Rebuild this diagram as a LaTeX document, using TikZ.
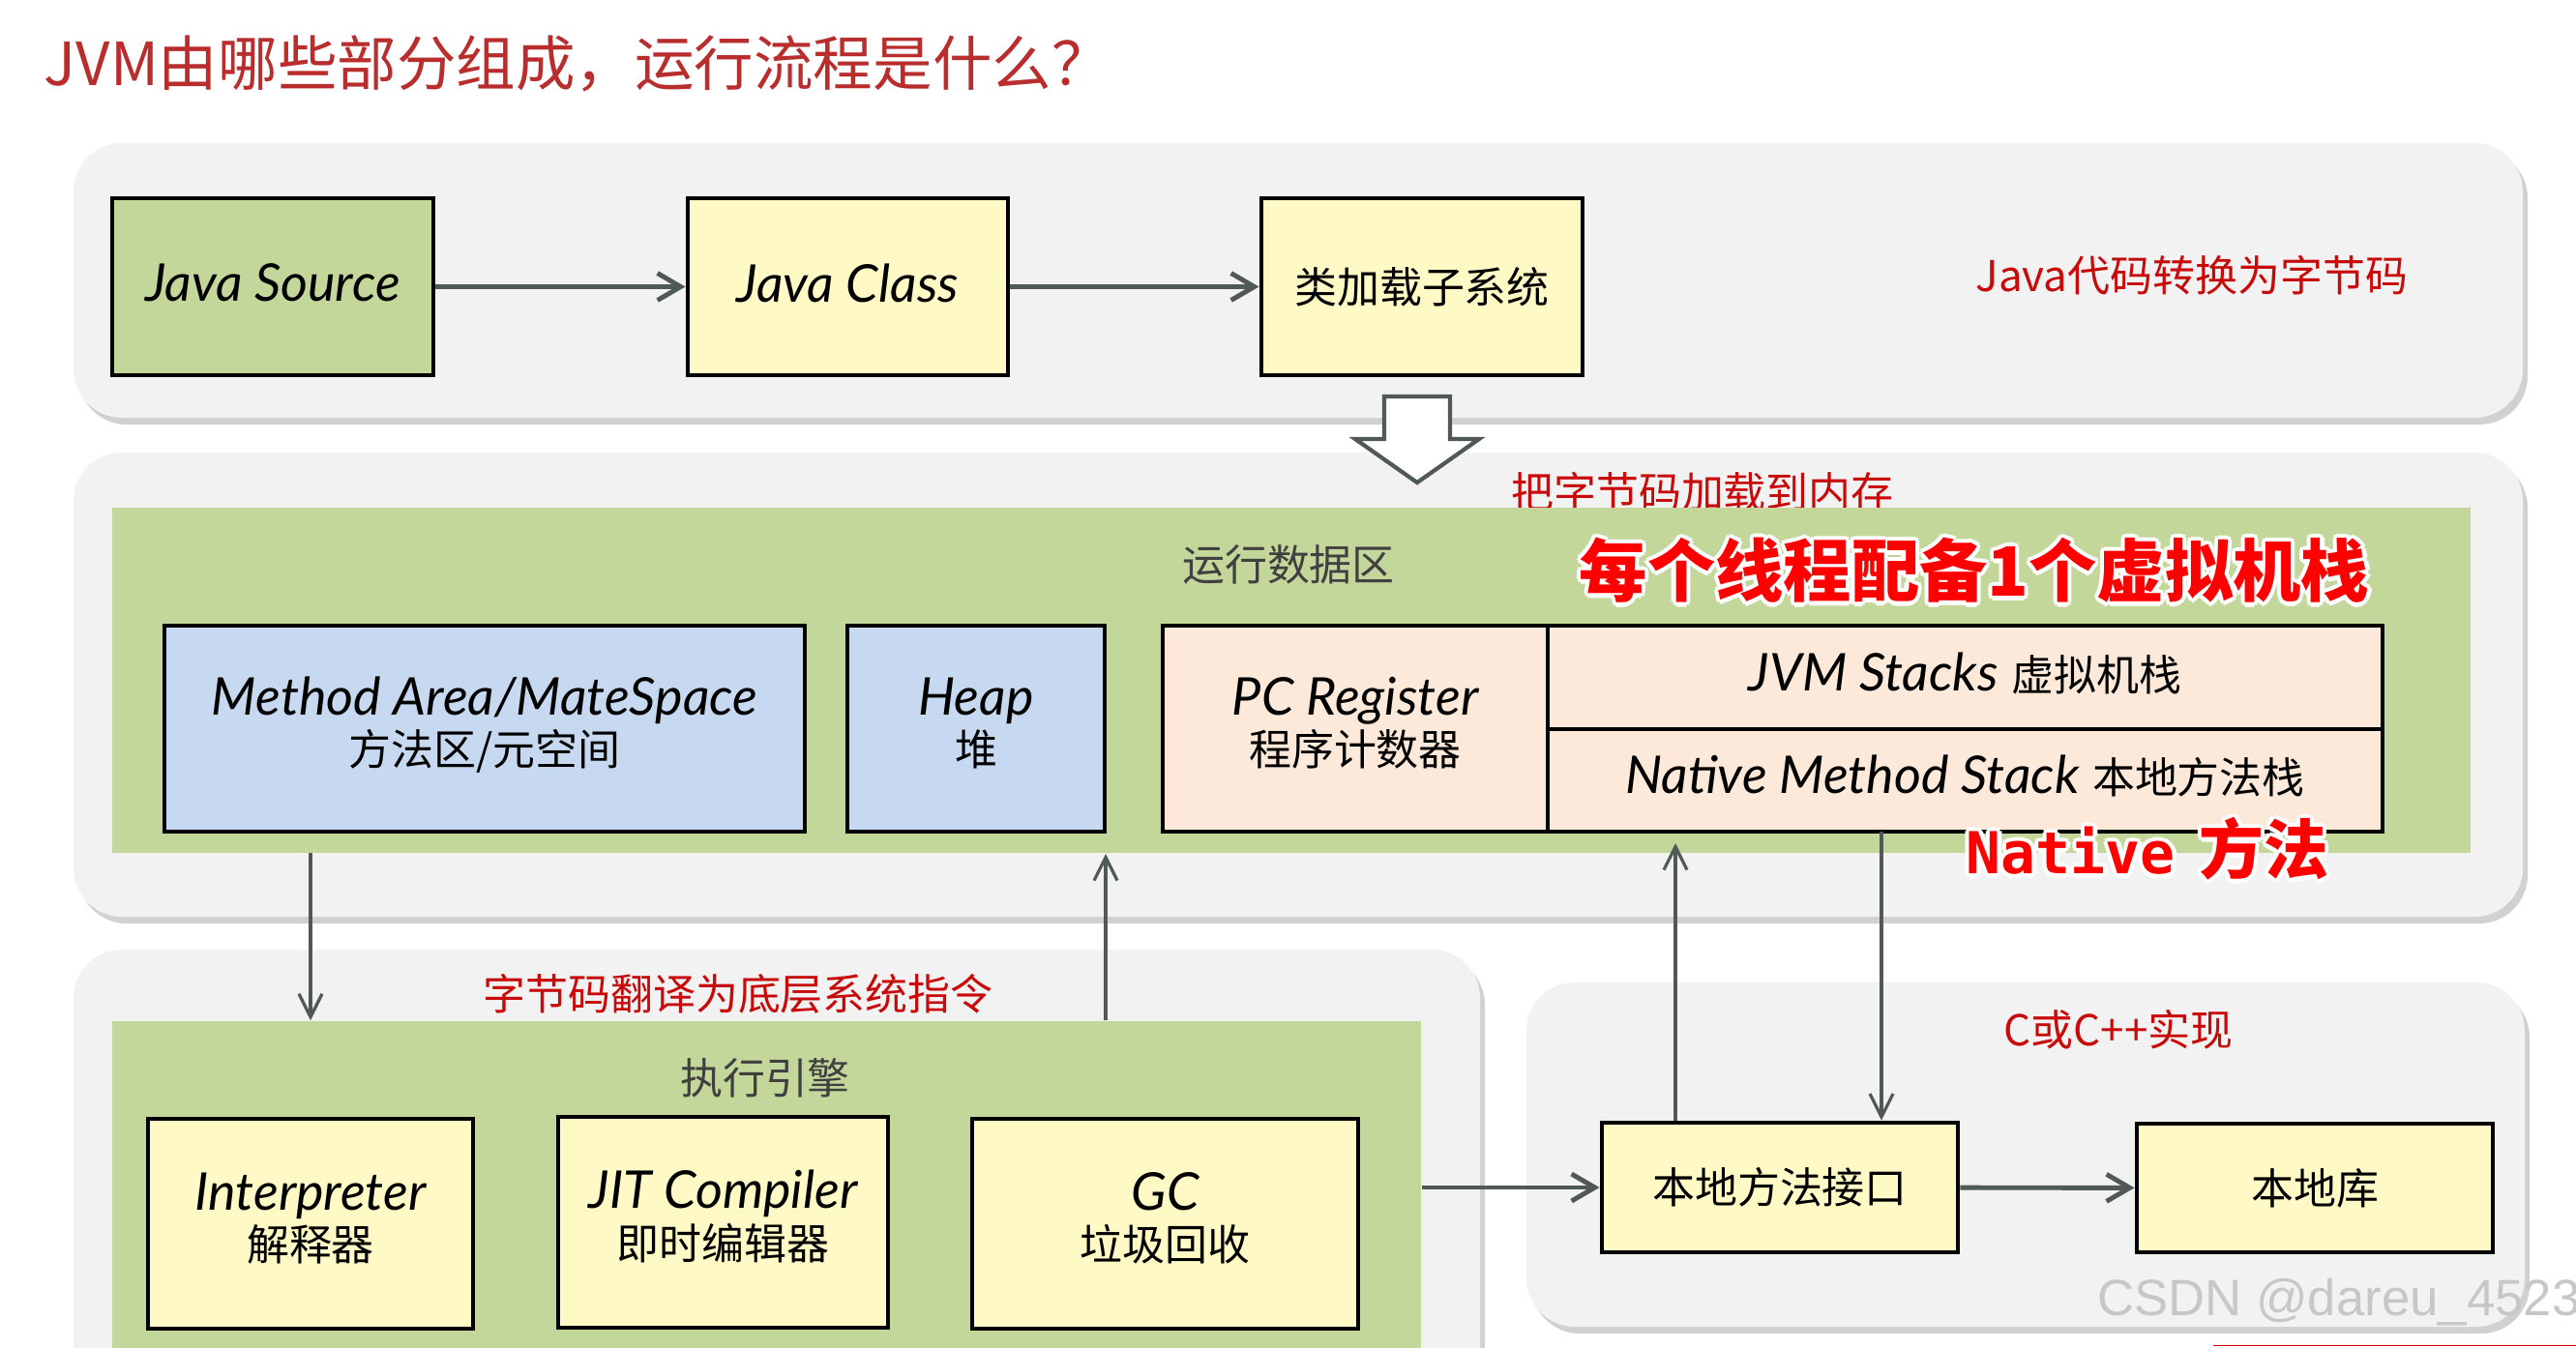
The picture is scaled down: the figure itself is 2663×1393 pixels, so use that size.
\documentclass[tikz,border=0pt]{standalone}
\usepackage{fontspec}
\setmainfont{Lato}
\newfontfamily\cjk{Noto Sans CJK SC}
\newfontfamily\lat{Lato}
\newfontfamily\mono{DejaVu Sans Mono}
\newfontfamily\wmfont{Liberation Sans}
\usetikzlibrary{arrows.meta,fit,shadows,calc}
\definecolor{pgray}{HTML}{F2F2F2}
\definecolor{agreen}{HTML}{C4D79B}
\definecolor{byellow}{HTML}{FFF9C5}
\definecolor{bblue}{HTML}{C6D9F1}
\definecolor{bpeach}{HTML}{FDE9D9}
\definecolor{agray}{RGB}{80,88,88}
\definecolor{tgray}{HTML}{404040}
\definecolor{lred}{RGB}{200,10,10}
\definecolor{ttlred}{RGB}{185,45,45}
\newcommand\LT[1]{{\lat\itshape\fontsize{15.3pt}{14.5pt}\selectfont #1}}
\newcommand\CJ[1]{{\cjk\fontsize{12.5pt}{14.5pt}\selectfont #1}}
\newcommand\TWO[2]{\begin{tabular}{@{}c@{}}#1\\#2\end{tabular}}
\newcommand\hcopy[3]{\rlap{\kern#1\raisebox{#2}{\textcolor{white}{#3}}}}
\newcommand\myhalo[1]{\hcopy{-1.2pt}{0pt}{#1}\hcopy{1.2pt}{0pt}{#1}\hcopy{0pt}{1.2pt}{#1}\hcopy{0pt}{-1.2pt}{#1}\hcopy{-.85pt}{.85pt}{#1}\hcopy{.85pt}{.85pt}{#1}\hcopy{-.85pt}{-.85pt}{#1}\hcopy{.85pt}{-.85pt}{#1}#1}
\tikzset{
  panel/.style={fill=pgray, draw=none, rounded corners=0.5cm, inner sep=0pt,
    drop shadow={shadow xshift=0.05cm, shadow yshift=-0.07cm, fill=black!40, opacity=0.45}},
  area/.style={fill=agreen, draw=none, inner sep=0pt},
  box/.style={draw=black, line width=1.4pt, inner sep=0pt},
  btext/.style={inner sep=0pt, text=black, font=\fontsize{15.3pt}{14.5pt}\selectfont},
  redlbl/.style={text=lred, inner sep=0pt, font=\cjk\fontsize{12.5pt}{15pt}\selectfont},
  graylbl/.style={text=tgray, inner sep=0pt, font=\cjk\fontsize{12.5pt}{15pt}\selectfont},
  bigred/.style={text=red, inner sep=0pt},
  thickarrow/.style={draw=agray, line width=1.4pt, -{Straight Barb[length=2.4mm,width=2.8mm]}},
  thinarrow/.style={draw=agray, line width=0.9pt, -{Straight Barb[length=2.4mm,width=2.4mm]}},
  hollow/.style={draw=agray, line width=1.2pt, fill=white, line join=miter}
}
\begin{document}
\begin{tikzpicture}[x=0.01cm,y=-0.01cm]
\clip (0,0) rectangle (2663,1393);
\fill[white] (0,0) rectangle (2663,1393);

% title
\node[anchor=west, inner sep=0pt, text=ttlred, font=\cjk\fontsize{17.5pt}{20pt}\selectfont] (title) at (45,66) {JVM由哪些部分组成，运行流程是什么？};

% panels
\node[panel, fit={(76,148) (2608,432)}] (p1) {};
\node[panel, fit={(76,468) (2608,948)}] (p2) {};
\node[panel, fit={(76,982) (1530,1480)}] (p3) {};
\node[panel, fit={(1578,1016) (2610,1372)}] (p4) {};

% top row
\node[box, fill=agreen, fit={(116,205) (448,388)}] (js) {};
\node[btext] (jst) at ($(js.center)+(0,-4)$) {\LT{Java Source}};
\node[box, fill=byellow, fit={(711,205) (1042,388)}] (jc) {};
\node[btext] (jct) at ($(jc.center)+(0,-4)$) {\LT{Java Class}};
\node[box, fill=byellow, fit={(1304,205) (1636,388)}] (cl) {};
\node[btext] (clt) at (cl.center) {\CJ{类加载子系统}};
\node[redlbl] (l1) at (2266,285) {Java代码转换为字节码};
\draw[thickarrow] (js) -- (jc);
\draw[thickarrow] (jc) -- (cl);

% hollow down arrow
\draw[hollow] (1431,410) -- (1499,410) -- (1499,454) -- (1529,454) -- (1465,499)
  -- (1401,454) -- (1431,454) -- cycle;

% runtime data area
\node[redlbl, anchor=north] (l2) at (1760,488) {把字节码加载到内存};
\node[area, fit={(116,525) (2554,882)}] (rda) {};
\node[graylbl] (l3) at (1332,584) {运行数据区};
\node[bigred, font=\cjk\bfseries\fontsize{20pt}{22pt}\selectfont] (l4) at (2041,590) {\myhalo{每个线程配备1个虚拟机栈}};
\node[box, fill=bblue, fit={(170,647) (832,860)}] (ma) {};
\node[btext] (mat) at (ma.center) {\TWO{\LT{Method Area/MateSpace}}{\CJ{方法区/元空间}}};
\node[box, fill=bblue, fit={(876,647) (1142,860)}] (heap) {};
\node[btext] (heapt) at (heap.center) {\TWO{\LT{Heap}}{\CJ{堆}}};
\node[box, fill=bpeach, fit={(1202,647) (1600,860)}] (pc) {};
\node[btext] (pct) at (pc.center) {\TWO{\LT{PC Register}}{\CJ{程序计数器}}};
\node[box, fill=bpeach, fit={(1600,647) (2463,754)}] (jvms) {};
\node[btext] (jvmst) at ($(jvms.center)+(0,-4)$) {\LT{JVM Stacks} \CJ{虚拟机栈}};
\node[box, fill=bpeach, fit={(1600,754) (2463,860)}] (nms) {};
\node[btext] (nmst) at ($(nms.center)+(0,-5)$) {\LT{Native Method Stack} \CJ{本地方法栈}};
\node[bigred] (l5) at (2220,878) {\myhalo{{\mono\bfseries\fontsize{17pt}{20pt}\selectfont Native}\hspace{0.7em}{\cjk\bfseries\fontsize{19pt}{20pt}\selectfont 方法}}};

% execution engine
\node[redlbl] (l6) at (763,1028) {字节码翻译为底层系统指令};
\node[area, fit={(116,1056) (1469,1480)}] (ee) {};
\node[graylbl] (l7) at (791,1115) {执行引擎};
\node[box, fill=byellow, fit={(153,1157) (489,1374)}] (interp) {};
\node[btext] (interpt) at (interp.center) {\TWO{\LT{Interpreter}}{\CJ{解释器}}};
\node[box, fill=byellow, fit={(577,1155) (918,1373)}] (jit) {};
\node[btext] (jitt) at (jit.center) {\TWO{\LT{JIT Compiler}}{\CJ{即时编辑器}}};
\node[box, fill=byellow, fit={(1005,1157) (1404,1374)}] (gc) {};
\node[btext] (gct) at (gc.center) {\TWO{\LT{GC}}{\CJ{垃圾回收}}};

% native
\node[redlbl] (l8) at (2190,1065) {C或C++实现};
\node[box, fill=byellow, fit={(1656,1161) (2024,1295)}] (nif) {};
\node[btext] (nift) at (nif.center) {\CJ{本地方法接口}};
\node[box, fill=byellow, fit={(2209,1162) (2577,1295)}] (nlib) {};
\node[btext] (nlibt) at (nlib.center) {\CJ{本地库}};

% connectors
\coordinate (c1) at (321,882);
\draw[thinarrow] (c1) -- (c1 |- ee.north);
\coordinate (c2) at (1143,883);
\draw[thinarrow] (c2 |- ee.north) -- (c2);
\coordinate (c3) at (1732,872);
\draw[thinarrow] (c3 |- nif.north) -- (c3);
\coordinate (c4) at (1945,860);
\draw[thinarrow] (c4) -- (c4 |- nif.north);
\draw[thickarrow] (nif.west -| ee.east) -- (nif.west);
\draw[thickarrow] (nif) -- (nlib);

% watermark
\node[inner sep=0pt, text=black!22, font=\wmfont\fontsize{15pt}{17pt}\selectfont] (wm) at (2418,1347) {CSDN @dareu\_4523};
\coordinate (r1) at (2288,1391.5);
\coordinate (r2) at (2663,1391.5);
\draw[red!80!black, line width=0.4pt] (r1) -- (r2);
\end{tikzpicture}
\end{document}
